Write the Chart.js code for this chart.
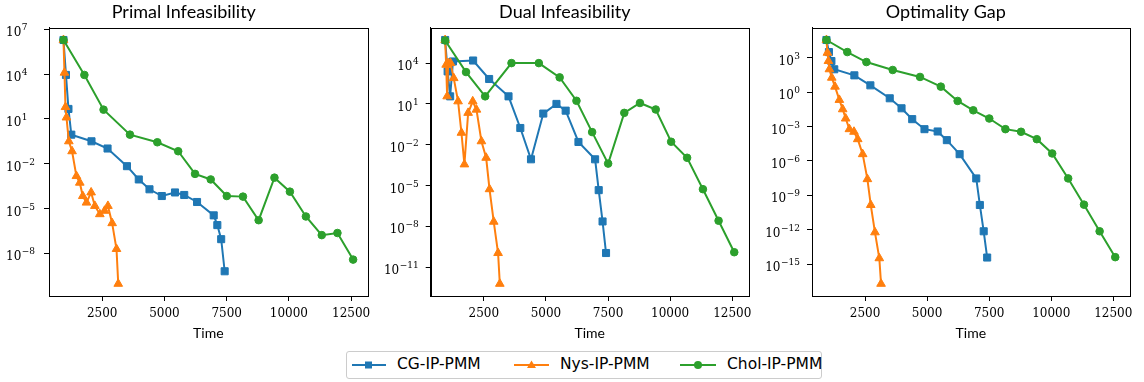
<!DOCTYPE html>
<html>
<head>
<meta charset="utf-8">
<script src="https://cdn.jsdelivr.net/npm/chart.js@4.4.1/dist/chart.umd.min.js"></script>
<style>
  body { margin: 0; background: #fff; width: 1144px; height: 382px; position: relative; overflow: hidden; }
  canvas { position: absolute; top: 0; }
  #legend { position: absolute; left: 346px; top: 351px; width: 476px; height: 28px; border: 1px solid #ccc; border-radius: 3px; box-sizing: border-box; }
  #legend svg { position: absolute; left: 0; top: 0; }
  #legend span { position: absolute; top: 3px; font: 15.5px "DejaVu Sans", sans-serif; color: #000; white-space: nowrap; }
</style>
</head>
<body>
<canvas id="c1" width="380" height="345" style="left:0px"></canvas>
<canvas id="c2" width="380" height="345" style="left:381px"></canvas>
<canvas id="c3" width="382" height="345" style="left:762px"></canvas>
<div id="legend">
  <svg width="476" height="28">
    <line x1="5" y1="13" x2="39" y2="13" stroke="#1f77b4" stroke-width="2"/>
    <rect x="18" y="9.5" width="7" height="7" fill="#1f77b4"/>
    <line x1="167" y1="13" x2="202" y2="13" stroke="#ff7f0e" stroke-width="2"/>
    <polygon points="184.5,8.5 189,16 180,16" fill="#ff7f0e"/>
    <line x1="333" y1="13" x2="369" y2="13" stroke="#2ca02c" stroke-width="2"/>
    <circle cx="351" cy="13" r="4" fill="#2ca02c"/>
  </svg>
  <span style="left:50px">CG-IP-PMM</span>
  <span style="left:213px">Nys-IP-PMM</span>
  <span style="left:380px">Chol-IP-PMM</span>
</div>
<script>
// iteration times for each method
const cgTime = [945, 1045, 1145, 1260, 2070, 2715, 3495, 3970, 4400, 4895, 5425, 5795, 6310, 6980, 7125, 7280, 7420];
const nysTime = [945, 985, 1025, 1065, 1160, 1290, 1465, 1600, 1720, 1870, 2055, 2205, 2405, 2595, 2730, 2900, 3075, 3145];
const cholTime = [945, 1785, 2555, 3615, 4715, 5553, 6230, 6860, 7505, 8155, 8785, 9420, 10040, 10683, 11320, 11950, 12580];

// primal infeasibility
const cgPrimal = [1.95e6, 8.9e3, 47, 0.89, 0.32, 0.105, 6.9e-3, 8.9e-4, 1.95e-4, 6.9e-5, 1.2e-4, 8.1e-5, 2.75e-5, 3.5e-6, 7.8e-7, 8.9e-8, 6.3e-10];
const nysPrimal = [1.95e6, 1.26e4, 63, 12.6, 0.32, 0.069, 1.5e-3, 5.4e-4, 6.9e-5, 2.5e-5, 1.2e-4, 1.5e-5, 4.2e-6, 7.1e-6, 1.5e-5, 1.05e-6, 1.95e-8, 9.1e-11];
const cholPrimal = [1.95e6, 8.9e3, 42, 0.89, 0.275, 0.069, 2.1e-3, 8.9e-4, 6.9e-5, 6.3e-5, 1.66e-6, 1.17e-3, 1.35e-4, 2.95e-6, 1.66e-7, 2.3e-7, 3.8e-9];

// dual infeasibility
const cgDual = [5.0e5, 2.45e3, 36, 1.32e4, 1.55e4, 680, 36, 0.17, 8.5e-4, 1.95, 10, 3.2, 0.016, 8.5e-4, 4.6e-6, 2.3e-8, 1.1e-10];
const nysDual = [5.0e5, 7.6e3, 36, 1e4, 1e4, 790, 15.5, 0.076, 3.6e-4, 2.2, 15.5, 3.8, 0.018, 1.1e-3, 5.4e-6, 2.2e-8, 1.1e-10, 6e-13];
const cholDual = [4.6e5, 2.2e3, 36, 1e4, 1e4, 890, 17, 0.085, 4.1e-4, 2.2, 11.7, 3.9, 0.0166, 1.1e-3, 5.4e-6, 2.6e-8, 1.26e-10];

// optimality gap
const cgGap = [3.5e4, 3.1e3, 513, 98, 29, 3.9, 0.29, 0.039, 4.4e-3, 5.9e-4, 3.7e-4, 6.5e-5, 3.9e-6, 3e-8, 1.45e-10, 7.4e-13, 3.8e-15];
const nysGap = [3.5e4, 2.7e3, 513, 98, 18, 3.0, 0.21, 0.032, 5e-3, 5.9e-4, 3.5e-4, 7.9e-5, 3.9e-6, 2.6e-8, 1.45e-10, 6e-13, 3.3e-15, 1.95e-17];
const cholGap = [3.5e4, 3.1e3, 417, 85, 21, 3.0, 0.17, 0.026, 5e-3, 5.9e-4, 3.5e-4, 7.9e-5, 4.5e-6, 3e-8, 1.55e-10, 7.4e-13, 4.1e-15];

const xTicks = [2500, 5000, 7500, 10000, 12500];
const primalTicks = [1e7, 1e4, 1e1, 1e-2, 1e-5, 1e-8];
const dualTicks = [1e4, 1e1, 1e-2, 1e-5, 1e-8, 1e-11];
const gapTicks = [1e3, 1e0, 1e-3, 1e-6, 1e-9, 1e-12, 1e-15];

const BLUE = '#1f77b4', ORANGE = '#ff7f0e', GREEN = '#2ca02c';

// matplotlib-like 5% margins
const allT = cgTime.concat(nysTime, cholTime);
const tMin = Math.min(...allT), tMax = Math.max(...allT);
const xMin = tMin - 0.05 * (tMax - tMin), xMax = tMax + 0.05 * (tMax - tMin);

function logRange(arrs) {
  const v = [].concat(...arrs);
  const lo = Math.log10(Math.min(...v)), hi = Math.log10(Math.max(...v));
  const m = 0.05 * (hi - lo);
  return [Math.pow(10, lo - m), Math.pow(10, hi + m)];
}

// frame around the axes + "10^n" labels drawn with a raised exponent
const framePlugin = {
  id: 'frame',
  afterDraw(chart, args, opts) {
    const { ctx, chartArea: a } = chart;
    const ys = chart.scales.y;
    ctx.save();
    ctx.strokeStyle = '#000';
    ctx.lineWidth = 1;
    ctx.strokeRect(Math.round(a.left) + 0.5, Math.round(a.top) + 0.5, Math.round(a.right - a.left), Math.round(a.bottom - a.top));
    ctx.fillStyle = '#000';
    ctx.textBaseline = 'alphabetic';
    ys.ticks.forEach(t => {
      const py = ys.getPixelForValue(t.value);
      const e = String(Math.round(Math.log10(t.value))).replace('-', '\u2212');
      ctx.font = '9px "DejaVu Serif"';
      const ew = ctx.measureText(e).width;
      ctx.font = '12px "DejaVu Serif"';
      const bw = ctx.measureText('10').width;
      let x0;
      if (opts.alignLeft) x0 = opts.alignLeft;
      else x0 = a.left - 12 - ew - bw - 0.5;
      ctx.textAlign = 'left';
      ctx.fillText('10', x0, py + 7);
      ctx.font = '9px "DejaVu Serif"';
      ctx.fillText(e, x0 + bw + 0.5, py + 1);
    });
    ctx.restore();
  }
};

function makePanel(id, title, cg, nys, chol, yTicks, yWidth, rightPad, alignLeft) {
  const [yMin, yMax] = logRange([cg, nys, chol]);
  const pts = (t, v) => t.map((x, i) => ({ x: x, y: v[i] }));
  const ds = (label, t, v, color, style, r, order) => ({
    label: label, data: pts(t, v), borderColor: color, backgroundColor: color,
    borderWidth: 2, pointStyle: style, pointRadius: r, pointHoverRadius: r,
    pointBorderWidth: 1, pointBorderColor: color, pointBackgroundColor: color,
    tension: 0, order: order
  });
  new Chart(document.getElementById(id), {
    type: 'line',
    data: {
      datasets: [
        ds('CG-IP-PMM', cgTime, cg, BLUE, 'rect', 5, 3),
        ds('Nys-IP-PMM', nysTime, nys, ORANGE, 'triangle', 5, 2),
        ds('Chol-IP-PMM', cholTime, chol, GREEN, 'circle', 3.8, 1)
      ]
    },
    options: {
      responsive: false,
      animation: false,
      layout: { padding: { left: 0, right: rightPad, top: 0, bottom: 0 } },
      plugins: {
        legend: { display: false },
        tooltip: { enabled: false },
        title: {
          display: true, text: title, color: '#000',
          font: { family: 'Lato', size: 18, weight: 'normal', lineHeight: 1.1 },
          padding: { top: 2, bottom: 6 }
        },
        frame: { alignLeft: alignLeft }
      },
      scales: {
        x: {
          type: 'linear', min: xMin, max: xMax,
          afterBuildTicks: s => { s.ticks = xTicks.map(v => ({ value: v })); },
          afterFit: s => { s.height = 49; },
          grid: { drawOnChartArea: false, drawTicks: true, tickLength: 5, color: '#000' },
          border: { display: true, color: '#000', width: 1 },
          ticks: { color: '#000', padding: 6, maxRotation: 0, font: { family: 'DejaVu Serif', size: 12 }, callback: v => String(v) },
          title: { display: true, text: 'Time', color: '#000', font: { family: 'Lato', size: 14 }, padding: { top: 0, bottom: 3 } }
        },
        y: {
          type: 'logarithmic', min: yMin, max: yMax,
          afterBuildTicks: s => { s.ticks = yTicks.map(v => ({ value: v })); },
          afterFit: s => { s.width = yWidth; },
          grid: { drawOnChartArea: false, drawTicks: true, tickLength: 5, color: '#000' },
          border: { display: true, color: '#000', width: 1 },
          ticks: { display: false }
        }
      }
    },
    plugins: [framePlugin]
  });
}

makePanel('c1', 'Primal Infeasibility', cgPrimal, nysPrimal, cholPrimal, primalTicks, 49, 12.4, 6);
makePanel('c2', 'Dual Infeasibility', cgDual, nysDual, cholDual, dualTicks, 49.7, 12.3, 0);
makePanel('c3', 'Optimality Gap', cgGap, nysGap, cholGap, gapTicks, 50, 14.3, 0);
</script>
</body>
</html>
